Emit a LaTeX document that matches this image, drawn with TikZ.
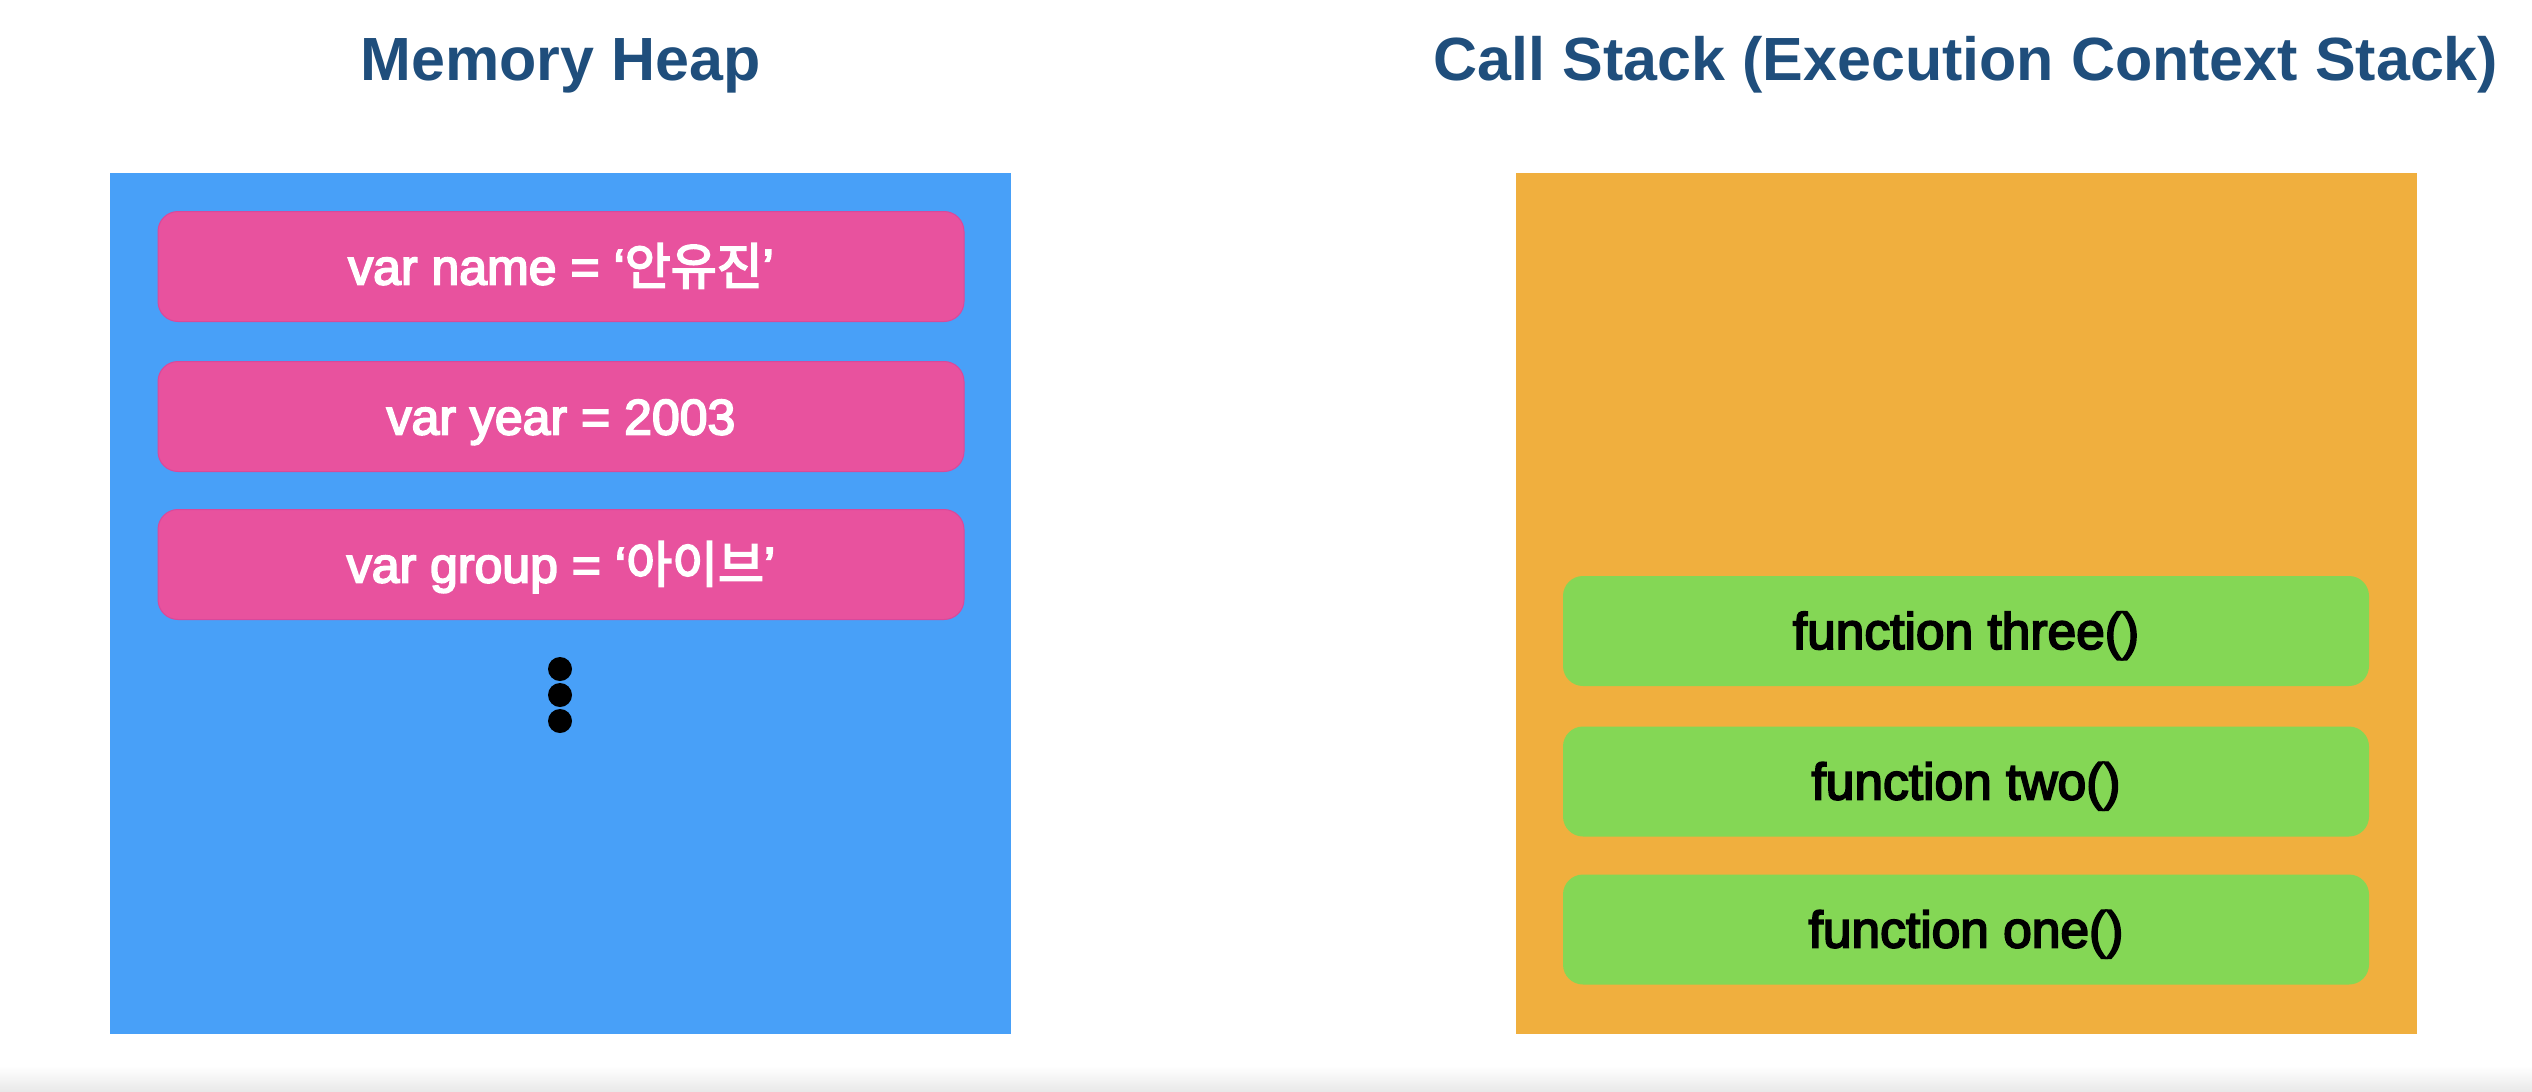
\documentclass[tikz,border=0pt]{standalone}
\usepackage{fontspec}
\setmainfont{Liberation Sans}
\newfontfamily\medfont[FakeBold=3.5]{Liberation Sans}
\newfontfamily\kr[FakeBold=3.5]{Noto Sans CJK KR}
\definecolor{titleblue}{HTML}{1F4E7C}
\definecolor{heapblue}{HTML}{48A0F8}
\definecolor{pinkc}{HTML}{E8529E}
\definecolor{pinkedge}{HTML}{D9499A}
\definecolor{stackorange}{HTML}{F0AF3E}
\definecolor{greenc}{HTML}{84D755}
\begin{document}
\begin{tikzpicture}[x=1pt,y=-1pt,
  titletext/.style={font=\fontsize{61}{70}\selectfont\bfseries, text=titleblue, anchor=base, inner sep=0},
  panel/.style={inner sep=0, minimum width=901pt, minimum height=861pt},
  itembox/.style={rounded corners=20pt, minimum width=806pt, minimum height=110pt, inner sep=0, text height=36pt, text depth=0pt},
  heapitem/.style={itembox, fill=pinkc, draw=pinkedge, line width=1pt, text=white, font=\medfont\fontsize{50}{60}\selectfont},
  stackitem/.style={itembox, fill=greenc, text=black, font=\medfont\fontsize{51.5}{60}\selectfont},
  dot/.style={circle, fill=black, inner sep=0, minimum size=24pt}
]
\useasboundingbox (0,0) rectangle (2532,1092);
\fill[white] (0,0) rectangle (2532,1092);
\shade[top color=white, bottom color=black!9] (0,1066) rectangle (2532,1092);

% titles
\node[titletext] (heaptitle) at (560.5,80) {Memory Heap};
\node[titletext] (stacktitle) at (1966,80) {Call Stack (Execution Context Stack)};

% panels
\node[panel, fill=heapblue] (heap) at (560.5,603.5) {};
\node[panel, fill=stackorange] (stack) at (1966,603.5) {};

% heap items
\node[heapitem] (name) at (561,266.5) {var name = ‘{\kr 안유진}’};
\node[heapitem] (year) at (561,416.5) {var year = 2003};
\node[heapitem] (group) at (561,564.5) {var group = ‘{\kr 아이브}’};

% dots
\node[dot] (d1) at (560,669) {};
\node[dot] (d2) at (560,695) {};
\node[dot] (d3) at (560,721) {};

% stack items
\node[stackitem] (three) at (1966,631) {function three()};
\node[stackitem] (two) at (1966,781.5) {function two()};
\node[stackitem] (one) at (1966,929.5) {function one()};
\end{tikzpicture}
\end{document}
